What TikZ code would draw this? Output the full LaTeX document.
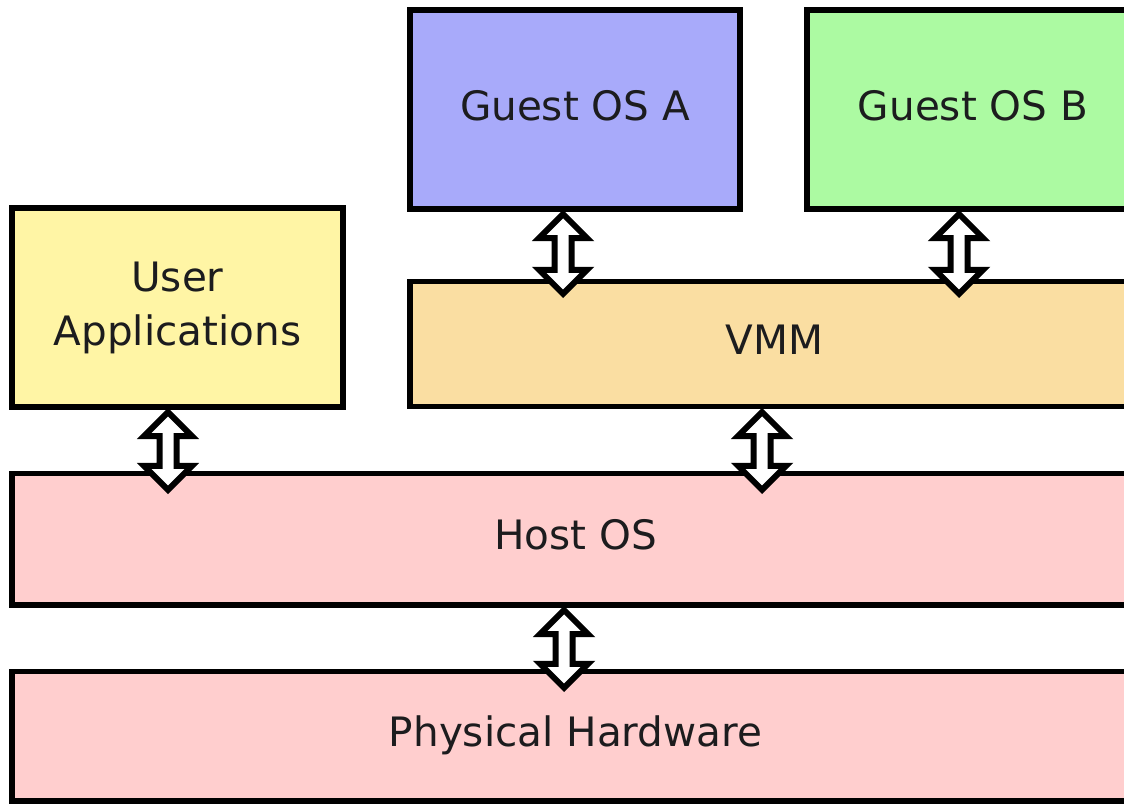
\documentclass[tikz,border=0pt]{standalone}
\usepackage{fontspec}
\setmainfont{DejaVu Sans}
\usetikzlibrary{calc}
\definecolor{guestA}{RGB}{168,170,250}
\definecolor{guestB}{RGB}{172,250,162}
\definecolor{userapp}{RGB}{255,245,165}
\definecolor{vmmcol}{RGB}{250,222,162}
\definecolor{hostcol}{RGB}{255,206,206}
\definecolor{txt}{RGB}{28,28,30}
\tikzset{
  layer/.style={draw=black, line width=5.5pt, rectangle, inner sep=0pt,
    text=txt, font=\fontsize{40.5}{54}\selectfont,
    text height=31pt, text depth=10pt},
  fatarrow/.style={draw=black, fill=white, line width=6pt, line join=miter}
}
\newcommand\fatarr[2]{%
  \path[fatarrow] let \p1=(#1), \p2=(#2) in
    (\x1,\y1) -- (\x1+24pt,\y1-24pt) -- (\x1+8.5pt,\y1-24pt) --
    (\x1+8.5pt,\y2+24pt) -- (\x1+24pt,\y2+24pt) -- (\x1,\y2) --
    (\x1-24pt,\y2+24pt) -- (\x1-8.5pt,\y2+24pt) -- (\x1-8.5pt,\y1-24pt) --
    (\x1-24pt,\y1-24pt) -- cycle;}
\begin{document}
\begin{tikzpicture}[x=1pt,y=-1pt]
\useasboundingbox (0,0) rectangle (1124,804);
\begin{scope}
\clip (0,0) rectangle (1124,804);
% boxes
\node[layer, fill=guestA, minimum width=330pt, minimum height=199pt] (ga) at (575,109.5) {Guest OS A};
\node[layer, fill=guestB, minimum width=332pt, minimum height=199pt] (gb) at (973,109.5) {Guest OS B};
\node[layer, fill=userapp, minimum width=331pt, minimum height=199pt,
      align=center, text height=, text depth=] (ua) at (177.5,307.5) {User\\Applications};
\node[layer, fill=vmmcol, minimum width=729pt, minimum height=125pt] (vmm) at (774.5,344) {VMM};
\node[layer, fill=hostcol, minimum width=1127pt, minimum height=131.5pt] (host) at (575.5,539.25) {Host OS};
\node[layer, fill=hostcol, minimum width=1127pt, minimum height=129.5pt] (hw) at (575.5,736.25) {Physical Hardware};
% arrow end points
\coordinate (a1t) at (563,214);
\coordinate (a1b) at ($(vmm.north -| a1t)+(0,15)$);
\coordinate (a2t) at (959,214);
\coordinate (a2b) at ($(vmm.north -| a2t)+(0,15)$);
\coordinate (a3t) at (168,412);
\coordinate (a3b) at ($(host.north -| a3t)+(0,19)$);
\coordinate (a4t) at (762,412);
\coordinate (a4b) at ($(host.north -| a4t)+(0,19)$);
\coordinate (a5t) at (564,610);
\coordinate (a5b) at ($(hw.north -| a5t)+(0,19)$);
\fatarr{a1t}{a1b}
\fatarr{a2t}{a2b}
\fatarr{a3t}{a3b}
\fatarr{a4t}{a4b}
\fatarr{a5t}{a5b}
\end{scope}
\end{tikzpicture}
\end{document}
